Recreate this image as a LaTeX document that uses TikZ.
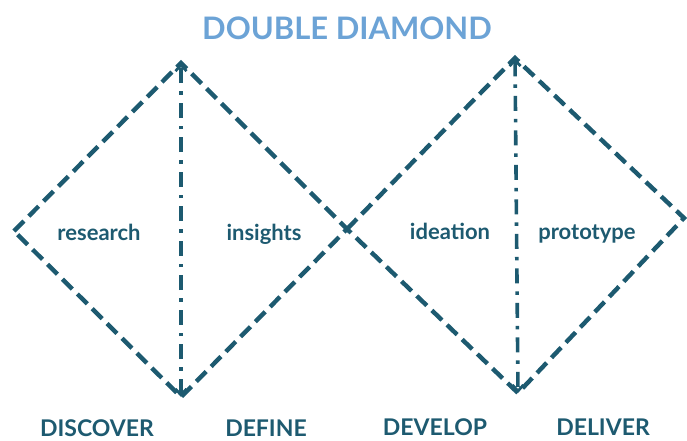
\documentclass[tikz,border=0pt]{standalone}
\usepackage{fontspec}
\setmainfont{Lato}
\definecolor{dteal}{HTML}{1D5A70}
\definecolor{lblue}{HTML}{6CA3D6}
\usetikzlibrary{arrows.meta}
\tikzset{
	edge/.style={dteal, line width=4.4pt, dash pattern=on 14pt off 7pt},
	axis/.style={dteal, line width=3.6pt, dash pattern=on 15pt off 8pt on 3.5pt off 8pt, {Straight Barb[length=6pt,width=11pt,line width=2.8pt]}-{Straight Barb[length=6pt,width=11pt,line width=2.8pt]}},
	phase/.style={dteal, anchor=base, inner sep=0pt, font=\bfseries\fontsize{23}{23}\selectfont},
	word/.style={dteal, anchor=base, font=\bfseries\fontsize{22}{22}\selectfont}
}

\begin{document}
\begin{tikzpicture}[x=1pt,y=-1pt]
	\useasboundingbox (0,0) rectangle (687,440);
	%corners
	\coordinate (l) at (14,231);
	\coordinate (lt) at (181,63);
	\coordinate (lb) at (181,397);
	\coordinate (m) at (347,229);
	\coordinate (rt) at (515,58);
	\coordinate (rb) at (518,393);
	\coordinate (r) at (684,218);
	%diamonds
	\draw[edge] (l) -- (lt) -- (m) -- (lb) -- cycle;
	\draw[edge] (m) -- (rt) -- (r) -- (rb) -- cycle;
	\draw[axis] (lb) -- (lt);
	\draw[axis] (rt) -- (rb);
	%texts
	\node[lblue, font=\bfseries\fontsize{31}{31}\selectfont] (title) at (347,28) {DOUBLE DIAMOND};
	\node[word] (research) at (99,240) {research};
	\node[word] (insights) at (264,240) {insights};
	\node[word] (ideation) at (450,239) {ideation};
	\node[word] (prototype) at (587,239) {prototype};
	\node[phase] (discover) at (97,436) {DISCOVER};
	\node[phase] (define) at (266,436) {DEFINE};
	\node[phase] (develop) at (435,435) {DEVELOP};
	\node[phase] (deliver) at (603,435) {DELIVER};
\end{tikzpicture}
\end{document}
